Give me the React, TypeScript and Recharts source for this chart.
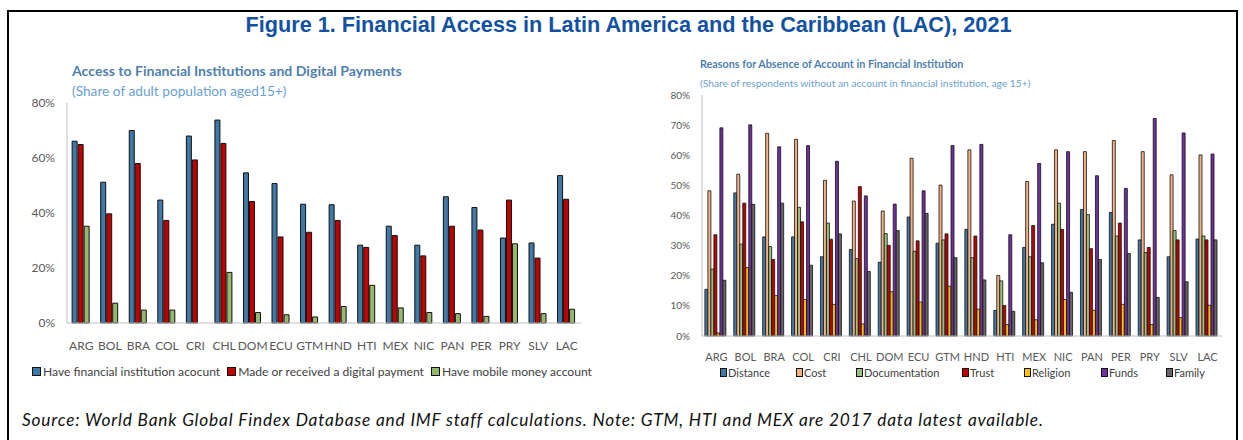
import React from "react";
import { BarChart, Bar, XAxis, YAxis } from "recharts";

const categories = ["ARG","BOL","BRA","COL","CRI","CHL","DOM","ECU","GTM","HND","HTI","MEX","NIC","PAN","PER","PRY","SLV","LAC"];

// Left chart: access (% of adults 15+)
const finAccount = [66.1,51.2,70,44.7,68,73.8,54.6,50.7,43.2,43,28.3,35.2,28.3,45.9,42,30.9,29.1,53.6];
const digitalPay = [64.9,39.7,58,37.3,59.3,65.3,44.2,31.3,33,37.3,27.5,31.8,24.4,35.2,33.8,44.7,23.6,45];
const mobileMoney = [35.2,7.2,4.7,4.7,0,18.4,3.8,3,2.2,6,13.7,5.5,3.8,3.4,2.4,28.8,3.4,5];
const leftTicks = [0,20,40,60,80];

// Right chart: reasons for no account
const distance = [15.5,47.5,32.9,32.9,26.3,28.7,24.5,39.5,30.8,35.4,8.5,29.4,37.1,42,41,31.9,26.3,32.2];
const cost = [48.2,53.7,67.3,65.3,51.7,44.8,41.5,59,50.1,61.8,20.1,51.3,61.8,61.2,64.9,61.2,53.5,60.1];
const documentation = [22.2,30.5,29.7,42.7,37.5,25.7,34,28.1,31.9,26,18.3,26.3,44.1,40.3,33.2,27.7,35,33.2];
const trust = [33.6,44.1,25.4,37.9,32.1,49.6,30.1,31.6,33.9,33.2,10.1,36.7,35.4,29,37.5,29.4,31.9,31.9];
const religion = [1,22.7,13.4,12.1,10.5,4,14.7,11.3,16.5,8.9,3.8,5.4,12.1,8.5,10.5,3.8,6.1,10.2];
const funds = [69.1,70.1,62.8,63.2,58,46.5,43.8,48.2,63.2,63.6,33.6,57.3,61.2,53.2,49,72.2,67.4,60.4];
const family = [18.5,43.7,44.1,23.5,33.9,21.4,35,40.7,26,18.6,8.2,24.3,14.5,25.4,27.4,12.8,18,31.9];
const rightTicks = [0,10,20,30,40,50,60,70,80];

const leftSeries = [
  { key: "fin", name: "Have financial institution acocunt", values: finAccount, color: "#3f79a7" },
  { key: "dig", name: "Made or received a digital payment", values: digitalPay, color: "#c00000" },
  { key: "mob", name: "Have mobile money account", values: mobileMoney, color: "#94b86f" },
];
const rightSeries = [
  { key: "distance", name: "Distance", values: distance, color: "#3f79a7" },
  { key: "cost", name: "Cost", values: cost, color: "#f4b183" },
  { key: "doc", name: "Documentation", values: documentation, color: "#9cc07e" },
  { key: "trust", name: "Trust", values: trust, color: "#c00000" },
  { key: "religion", name: "Religion", values: religion, color: "#ffc000" },
  { key: "funds", name: "Funds", values: funds, color: "#7030a0" },
  { key: "family", name: "Family", values: family, color: "#666666" },
];

const leftData = categories.map((c, i) => {
  const row: Record<string, any> = { cat: c };
  leftSeries.forEach((s) => (row[s.key] = s.values[i]));
  return row;
});
const rightData = categories.map((c, i) => {
  const row: Record<string, any> = { cat: c };
  rightSeries.forEach((s) => (row[s.key] = s.values[i]));
  return row;
});

const FONT = "Lato, 'Open Sans', sans-serif";
const pct = (v: number) => `${v}%`;
const frame = "#bfbfbf";

export default function App() {
  return (
    <div style={{ position: "absolute", left: 0, top: 0, width: 1243, height: 440, background: "#fff", fontFamily: FONT, overflow: "hidden" }}>
      <div style={{ position: "absolute", left: 7, top: 10, width: 1231, height: 440, border: "2px solid #000", boxSizing: "border-box" }} />
      <div style={{ position: "absolute", left: 0, width: 1257, top: 12, textAlign: "center", fontFamily: "'Liberation Sans', Arial, sans-serif", fontWeight: 700, fontSize: 21.7, color: "#1251a3", whiteSpace: "nowrap" }}>
        Figure 1. Financial Access in Latin America and the Caribbean (LAC), 2021
      </div>

      {/* Left chart */}
      <div style={{ position: "absolute", left: 72, top: 62, fontWeight: 700, fontSize: 14.1, color: "#4f7fae", whiteSpace: "nowrap" }}>
        Access to Financial Institutions and Digital Payments
      </div>
      <div style={{ position: "absolute", left: 72, top: 82, fontSize: 13.7, color: "#6b9fd3", whiteSpace: "nowrap" }}>
        (Share of adult population aged15+)
      </div>
      <div style={{ position: "absolute", left: 0, top: 0 }}>
        <BarChart width={600} height={400} data={leftData} margin={{ top: 103, right: 19, left: 0, bottom: 47 }} barCategoryGap="18%" barGap={1}>
          <XAxis dataKey="cat" interval={0} tickLine={false} axisLine={{ stroke: frame }} height={30} tickMargin={12}
            tick={{ fontSize: 12, fill: "#595959", fontFamily: FONT }} />
          <XAxis xAxisId="top" dataKey="cat" orientation="top" tick={false} tickLine={false} height={0} axisLine={{ stroke: frame }} />
          <YAxis domain={[0, 80]} ticks={leftTicks} tickFormatter={pct} tickLine={false} axisLine={{ stroke: frame }} width={67} tickMargin={6}
            tick={{ fontSize: 12, fill: "#595959", fontFamily: FONT }} />
          <YAxis yAxisId="r" orientation="right" domain={[0, 1]} tick={false} tickLine={false} width={0} axisLine={{ stroke: frame }} />
          {leftSeries.map((s) => (
            <Bar key={s.key} dataKey={s.key} name={s.name} fill={s.color} stroke="#111" strokeWidth={1} isAnimationActive={false} />
          ))}
        </BarChart>
      </div>
      <div style={{ position: "absolute", left: 32, top: 364, display: "flex", fontSize: 12.1, color: "#404040", whiteSpace: "nowrap" }}>
        {leftSeries.map((s) => (
          <div key={s.key} style={{ display: "flex", alignItems: "center", marginRight: 7 }}>
            <span style={{ display: "inline-block", width: 7, height: 7, background: s.color, border: "1px solid #111", marginRight: 2 }} />
            {s.name}
          </div>
        ))}
      </div>

      {/* Right chart */}
      <div style={{ position: "absolute", left: 700, top: 57, fontWeight: 700, fontSize: 10.8, color: "#4f7fae", whiteSpace: "nowrap" }}>
        Reasons for Absence of Account in Financial Institution
      </div>
      <div style={{ position: "absolute", left: 700, top: 77, fontSize: 10.25, color: "#6b9fd3", whiteSpace: "nowrap" }}>
        (Share of respondents without an account in financial institution, age 15+)
      </div>
      <div style={{ position: "absolute", left: 620, top: 0 }}>
        <BarChart width={620} height={400} data={rightData} margin={{ top: 95, right: 18, left: 0, bottom: 34 }} barCategoryGap="10%" barGap={0}>
          <XAxis dataKey="cat" interval={0} tickLine={false} axisLine={{ stroke: frame }} height={30} tickMargin={11}
            tick={{ fontSize: 11, fill: "#595959", fontFamily: FONT }} />
          <XAxis xAxisId="top" dataKey="cat" orientation="top" tick={false} tickLine={false} height={0} axisLine={{ stroke: frame }} />
          <YAxis domain={[0, 80]} ticks={rightTicks} tickFormatter={pct} tickLine={false} axisLine={{ stroke: frame }} width={82} tickMargin={6}
            tick={{ fontSize: 10, fill: "#595959", fontFamily: FONT }} />
          <YAxis yAxisId="r" orientation="right" domain={[0, 1]} tick={false} tickLine={false} width={0} axisLine={{ stroke: frame }} />
          {rightSeries.map((s) => (
            <Bar key={s.key} dataKey={s.key} name={s.name} fill={s.color} stroke="#111" strokeWidth={0.8} isAnimationActive={false} />
          ))}
        </BarChart>
      </div>
      {rightSeries.map((s, i) => (
        <div key={s.key} style={{ position: "absolute", left: [720, 796, 856, 962, 1024, 1101, 1166][i], top: 366, display: "flex", alignItems: "center", fontSize: 11, color: "#404040", whiteSpace: "nowrap" }}>
          <span style={{ display: "inline-block", width: 5, height: 7, background: s.color, border: "1px solid #111", marginRight: 1 }} />
          {s.name}
        </div>
      ))}

      <div style={{ position: "absolute", left: 22, top: 409, fontStyle: "italic", fontSize: 17.3, letterSpacing: 0.82, color: "#111", whiteSpace: "nowrap" }}>
        Source: World Bank Global Findex Database and IMF staff calculations. Note: GTM, HTI and MEX are 2017 data latest available.
      </div>
    </div>
  );
}
